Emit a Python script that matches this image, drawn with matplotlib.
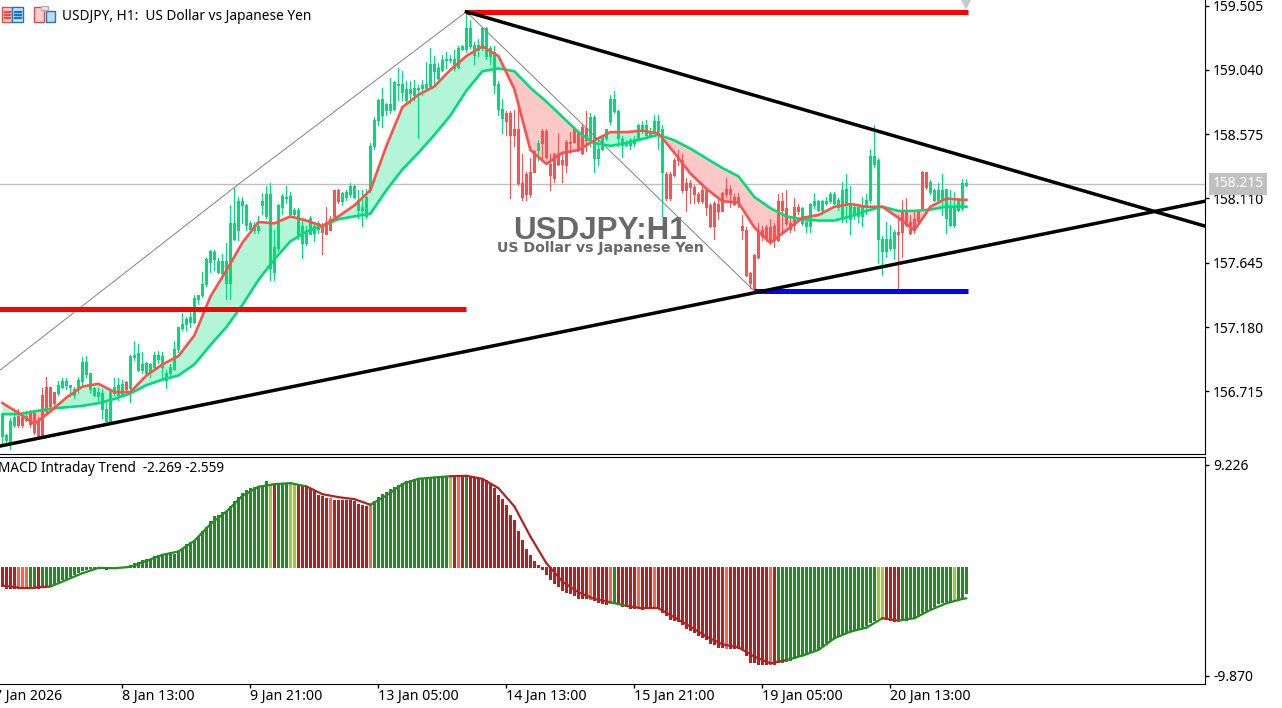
import matplotlib
matplotlib.use("Agg")
import matplotlib.pyplot as plt
from matplotlib.patches import Rectangle

FONT = "Noto Sans"

# chart scale limits
price_top = 159.545
price_bottom = 156.262
macd_top = 9.96
macd_bottom = -10.63
first_slot = -0.6
last_slot = 300.65

opens = [
    156.39, 156.36, 156.34, 156.47, 156.54, 156.53, 156.51, 156.56, 156.56, 156.50,
    156.69, 156.75, 156.75, 156.71, 156.70, 156.75, 156.76, 156.75, 156.69, 156.73,
    156.79, 156.84, 156.73, 156.69, 156.68, 156.59, 156.50, 156.50, 156.70, 156.69,
    156.69, 156.78, 156.74, 156.96, 156.87, 156.87, 156.85, 156.86, 156.89, 156.95,
    156.89, 156.80, 156.85, 156.88, 157.02, 157.17, 157.20, 157.22, 157.22, 157.38,
    157.41, 157.49, 157.65, 157.67, 157.58, 157.57, 157.50, 157.50, 157.82, 157.88,
    158.06, 157.92, 157.89, 157.88, 157.88, 158.06, 157.98, 157.61, 157.58, 157.75,
    158.05, 158.11, 158.00, 158.00, 157.85, 157.79, 157.79, 157.85, 157.86, 157.89,
    157.92, 157.94, 157.96, 158.17, 158.17, 158.09, 158.12, 158.14, 158.12, 158.03,
    158.03, 157.98, 158.17, 158.49, 158.68, 158.71, 158.75, 158.75, 158.76, 158.93,
    158.88, 158.82, 158.87, 158.86, 158.90, 158.91, 158.91, 158.92, 159.03, 158.98,
    159.04, 159.11, 159.11, 159.05, 159.06, 159.19, 159.19, 159.21, 159.15, 159.18,
    159.20, 159.14, 159.14, 158.93, 158.76, 158.69, 158.73, 158.73, 158.61, 158.61,
    158.22, 158.29, 158.30, 158.45, 158.46, 158.60, 158.60, 158.36, 158.43, 158.44,
    158.39, 158.52, 158.52, 158.61, 158.58, 158.63, 158.62, 158.53, 158.40, 158.40,
    158.47, 158.55, 158.67, 158.74, 158.55, 158.50, 158.50, 158.50, 158.51, 158.55,
    158.60, 158.57, 158.57, 158.60, 158.60, 158.30, 158.29, 158.29, 158.39, 158.41,
    158.39, 158.22, 158.22, 158.19, 158.14, 158.17, 158.17, 158.06, 158.08, 158.07,
    158.15, 158.18, 158.18, 158.12, 158.12, 157.91, 157.88, 157.57, 157.70, 157.87,
    157.88, 157.90, 157.90, 157.91, 158.09, 158.09, 158.04, 157.93, 158.05, 158.05,
    157.93, 157.91, 157.91, 158.06, 158.03, 158.03, 158.08, 158.09, 158.08, 158.05,
    157.96, 158.06, 157.96, 157.99, 157.98, 157.98, 158.05, 158.10, 158.36, 157.82,
    157.73, 157.73, 157.75, 157.75, 157.87, 158.03, 158.03, 157.94, 157.96, 158.01,
    158.30, 158.30, 158.16, 158.10, 158.10, 158.10, 157.97, 157.92, 157.92, 158.03,
    158.04, 158.21,
]
closes = [
    156.55, 156.40, 156.50, 156.53, 156.47, 156.47, 156.54, 156.48, 156.42, 156.39,
    156.40, 156.57, 156.61, 156.63, 156.76, 156.79, 156.79, 156.76, 156.73, 156.80,
    156.93, 156.93, 156.85, 156.74, 156.71, 156.70, 156.59, 156.72, 156.75, 156.76,
    156.77, 156.73, 156.97, 156.98, 156.99, 156.91, 156.92, 156.91, 156.98, 156.98,
    156.97, 156.85, 156.89, 157.02, 157.18, 157.20, 157.24, 157.25, 157.39, 157.41,
    157.49, 157.67, 157.73, 157.72, 157.66, 157.66, 157.66, 157.93, 157.93, 158.09,
    158.09, 158.06, 157.93, 157.92, 157.91, 158.09, 158.14, 158.14, 157.76, 158.06,
    158.13, 158.12, 158.13, 158.03, 158.03, 157.91, 157.88, 157.97, 157.91, 157.93,
    157.87, 157.85, 157.88, 157.98, 158.09, 158.15, 158.16, 158.20, 158.20, 158.10,
    158.05, 158.12, 158.49, 158.68, 158.82, 158.83, 158.79, 158.79, 158.95, 158.94,
    158.94, 158.90, 158.90, 158.91, 158.91, 158.93, 158.94, 159.08, 159.08, 159.05,
    159.11, 159.12, 159.12, 159.12, 159.20, 159.21, 159.34, 159.34, 159.22, 159.22,
    159.34, 159.34, 159.20, 159.17, 158.94, 158.76, 158.67, 158.57, 158.57, 158.22,
    158.12, 158.14, 158.14, 158.30, 158.51, 158.51, 158.41, 158.28, 158.26, 158.36,
    158.36, 158.35, 158.51, 158.52, 158.46, 158.44, 158.53, 158.70, 158.70, 158.47,
    158.56, 158.61, 158.83, 158.83, 158.74, 158.54, 158.52, 158.53, 158.54, 158.64,
    158.64, 158.64, 158.60, 158.67, 158.67, 158.61, 158.11, 158.11, 158.28, 158.39,
    158.17, 158.17, 158.19, 158.14, 158.09, 158.09, 158.05, 157.91, 157.91, 158.02,
    158.02, 158.14, 158.14, 158.07, 158.08, 157.88, 157.56, 157.50, 157.46, 157.69,
    157.84, 157.82, 157.81, 157.81, 157.81, 158.03, 157.93, 157.89, 157.92, 158.02,
    158.04, 157.94, 158.07, 158.09, 158.09, 158.09, 158.09, 158.14, 158.14, 158.10,
    158.17, 158.18, 158.06, 158.05, 158.05, 158.05, 158.10, 158.42, 158.42, 158.39,
    157.82, 157.82, 157.82, 157.87, 157.85, 157.87, 157.92, 157.86, 157.88, 157.95,
    158.04, 158.19, 158.23, 158.17, 158.17, 158.17, 158.18, 158.04, 158.05, 158.10,
    158.22, 158.22,
]
highs = [
    156.56, 156.41, 156.52, 156.59, 156.59, 156.55, 156.57, 156.58, 156.57, 156.53,
    156.74, 156.82, 156.75, 156.71, 156.79, 156.81, 156.81, 156.76, 156.75, 156.82,
    156.96, 156.97, 156.85, 156.75, 156.74, 156.73, 156.65, 156.73, 156.81, 156.81,
    156.80, 156.79, 156.98, 157.08, 157.06, 157.00, 156.93, 156.92, 157.00, 157.01,
    157.00, 156.87, 156.91, 157.08, 157.18, 157.28, 157.25, 157.30, 157.41, 157.41,
    157.58, 157.68, 157.74, 157.74, 157.68, 157.71, 157.79, 158.06, 158.19, 158.12,
    158.12, 158.07, 157.95, 157.94, 157.98, 158.15, 158.20, 158.22, 157.88, 158.07,
    158.14, 158.20, 158.16, 158.04, 158.04, 157.95, 157.91, 157.98, 157.93, 157.95,
    157.93, 158.05, 157.98, 158.17, 158.18, 158.16, 158.17, 158.22, 158.21, 158.17,
    158.17, 158.18, 158.51, 158.70, 158.83, 158.91, 158.80, 158.98, 158.96, 159.05,
    159.03, 158.96, 158.96, 158.97, 158.93, 158.97, 159.10, 159.20, 159.14, 159.09,
    159.15, 159.17, 159.15, 159.18, 159.21, 159.22, 159.46, 159.40, 159.24, 159.26,
    159.35, 159.35, 159.21, 159.21, 158.96, 158.83, 158.74, 158.74, 158.75, 158.77,
    158.43, 158.30, 158.40, 158.46, 158.53, 158.61, 158.61, 158.43, 158.44, 158.58,
    158.43, 158.53, 158.59, 158.62, 158.59, 158.65, 158.74, 158.73, 158.71, 158.53,
    158.57, 158.61, 158.86, 158.89, 158.75, 158.56, 158.53, 158.55, 158.56, 158.65,
    158.67, 158.68, 158.62, 158.71, 158.71, 158.64, 158.30, 158.30, 158.40, 158.46,
    158.43, 158.26, 158.24, 158.21, 158.16, 158.22, 158.18, 158.08, 158.09, 158.12,
    158.16, 158.26, 158.21, 158.14, 158.15, 157.99, 157.90, 157.58, 157.71, 157.93,
    157.91, 157.92, 157.96, 157.93, 158.14, 158.15, 158.17, 157.97, 158.11, 158.07,
    158.05, 157.97, 158.08, 158.15, 158.10, 158.10, 158.12, 158.16, 158.16, 158.11,
    158.23, 158.29, 158.20, 158.06, 158.05, 158.12, 158.14, 158.47, 158.64, 158.40,
    157.84, 157.94, 157.92, 157.88, 157.99, 158.10, 158.11, 157.99, 158.02, 158.03,
    158.31, 158.30, 158.24, 158.18, 158.22, 158.29, 158.18, 158.17, 158.16, 158.11,
    158.25, 158.25,
]
lows = [
    156.34, 156.34, 156.30, 156.46, 156.46, 156.46, 156.50, 156.46, 156.41, 156.38,
    156.39, 156.56, 156.59, 156.59, 156.69, 156.74, 156.73, 156.68, 156.67, 156.70,
    156.77, 156.82, 156.70, 156.68, 156.65, 156.52, 156.48, 156.48, 156.69, 156.65,
    156.68, 156.70, 156.64, 156.94, 156.86, 156.85, 156.84, 156.82, 156.87, 156.92,
    156.82, 156.74, 156.82, 156.87, 157.00, 157.16, 157.16, 157.18, 157.21, 157.35,
    157.40, 157.48, 157.58, 157.59, 157.57, 157.56, 157.38, 157.38, 157.81, 157.81,
    157.93, 157.88, 157.86, 157.86, 157.86, 158.00, 157.97, 157.52, 157.52, 157.74,
    158.00, 158.08, 157.99, 157.98, 157.82, 157.68, 157.77, 157.85, 157.80, 157.86,
    157.71, 157.85, 157.88, 157.97, 158.08, 158.06, 158.10, 158.12, 158.11, 157.97,
    157.91, 157.97, 158.16, 158.47, 158.64, 158.63, 158.71, 158.73, 158.75, 158.82,
    158.82, 158.81, 158.80, 158.82, 158.55, 158.86, 158.91, 158.91, 158.94, 158.96,
    159.03, 159.05, 159.10, 159.04, 159.05, 159.18, 159.17, 159.20, 159.08, 159.14,
    159.18, 159.12, 159.08, 158.87, 158.71, 158.58, 158.57, 158.11, 158.49, 158.21,
    158.10, 158.10, 158.12, 158.30, 158.39, 158.39, 158.40, 158.17, 158.23, 158.35,
    158.23, 158.30, 158.44, 158.51, 158.45, 158.43, 158.45, 158.49, 158.30, 158.35,
    158.46, 158.53, 158.65, 158.73, 158.49, 158.41, 158.49, 158.47, 158.49, 158.53,
    158.58, 158.56, 158.56, 158.58, 158.47, 157.98, 158.10, 158.10, 158.27, 158.35,
    158.16, 158.02, 158.08, 158.08, 158.08, 158.08, 157.99, 157.90, 157.82, 157.96,
    158.02, 158.12, 158.05, 158.06, 158.05, 157.82, 157.55, 157.46, 157.44, 157.68,
    157.81, 157.80, 157.78, 157.76, 157.80, 157.86, 157.92, 157.87, 157.88, 158.00,
    157.92, 157.87, 157.87, 158.04, 158.02, 158.00, 158.06, 158.08, 158.07, 158.03,
    157.94, 157.94, 157.85, 157.96, 157.94, 157.91, 158.00, 158.08, 158.34, 157.64,
    157.56, 157.69, 157.74, 157.67, 157.46, 157.69, 157.91, 157.85, 157.86, 157.92,
    158.03, 158.18, 158.14, 158.09, 158.09, 157.99, 157.86, 157.91, 157.90, 158.02,
    158.03, 158.20,
]

# moving averages, read every 4th bar (the last one is bar 241)
ma_bars = list(range(0, 241, 4)) + [241]
fast_ma = [
    156.63, 156.56, 156.48, 156.57, 156.67, 156.75, 156.77, 156.71, 156.71, 156.83,
    156.91, 156.97, 157.12, 157.40, 157.59, 157.79, 157.94, 157.93, 157.98, 157.95,
    157.91, 157.98, 158.06, 158.17, 158.49, 158.77, 158.86, 158.92, 159.04, 159.14,
    159.21, 159.14, 158.90, 158.46, 158.36, 158.44, 158.46, 158.53, 158.59, 158.59,
    158.60, 158.58, 158.44, 158.29, 158.18, 158.09, 158.08, 157.90, 157.79, 157.88,
    157.97, 157.99, 158.05, 158.07, 158.05, 158.05, 157.97, 157.88, 158.05, 158.11,
    158.10, 158.10,
]
slow_ma = [
    156.55, 156.55, 156.57, 156.59, 156.60, 156.61, 156.63, 156.66, 156.70, 156.76,
    156.80, 156.83, 156.91, 157.05, 157.18, 157.34, 157.52, 157.67, 157.80, 157.87,
    157.91, 157.96, 157.98, 158.00, 158.17, 158.32, 158.44, 158.57, 158.71, 158.89,
    159.03, 159.05, 159.03, 158.91, 158.81, 158.70, 158.59, 158.51, 158.49, 158.51,
    158.54, 158.57, 158.53, 158.47, 158.40, 158.33, 158.27, 158.12, 158.04, 157.98,
    157.96, 157.95, 157.95, 157.98, 158.02, 158.05, 158.02, 158.02, 158.03, 158.05,
    158.05, 158.05,
]

macd_hist = [
    -1.72, -1.96, -1.96, -1.90, -1.90, -1.90, -1.90, -1.90, -1.90, -1.96,
    -1.84, -1.75, -1.66, -1.51, -1.30, -1.12, -1.00, -0.82, -0.63, -0.45,
    -0.30, -0.21, -0.15, -0.09, -0.06, -0.06, -0.21, -0.15, -0.09, -0.06,
    -0.06, -0.06, 0.15, 0.30, 0.39, 0.60, 0.66, 0.69, 0.91, 1.00,
    1.12, 1.12, 1.15, 1.15, 1.36, 1.60, 2.02, 2.20, 2.33, 2.81,
    3.23, 3.62, 4.14, 4.53, 4.68, 4.98, 5.04, 5.44, 5.89, 6.28,
    6.70, 6.95, 7.10, 7.19, 7.25, 7.40, 7.70, 7.40, 7.40, 7.46,
    7.46, 7.55, 7.55, 7.55, 7.49, 7.34, 7.19, 7.04, 6.86, 6.49,
    6.34, 6.19, 6.19, 6.04, 5.98, 5.98, 5.98, 5.98, 5.89, 5.65,
    5.53, 5.44, 5.53, 5.89, 6.25, 6.55, 6.73, 7.01, 7.19, 7.40,
    7.55, 7.70, 7.85, 7.94, 8.00, 8.00, 8.00, 8.06, 8.06, 8.12,
    8.15, 8.18, 8.18, 8.24, 8.24, 8.18, 8.18, 8.24, 8.12, 8.00,
    7.94, 7.85, 7.46, 7.10, 6.49, 6.10, 5.59, 4.68, 4.17, 3.26,
    2.42, 1.60, 1.00, 0.51, 0.15, -0.21, -0.66, -1.12, -1.51, -1.72,
    -2.11, -2.27, -2.42, -2.57, -2.81, -2.81, -2.87, -2.93, -3.02, -3.17,
    -3.32, -3.41, -3.32, -3.26, -3.32, -3.53, -3.56, -3.71, -3.71, -3.74,
    -3.84, -3.78, -3.78, -3.78, -3.78, -4.08, -4.38, -4.74, -4.83, -4.92,
    -5.22, -5.59, -5.74, -5.89, -6.19, -6.34, -6.55, -6.95, -7.01, -7.25,
    -7.31, -7.34, -7.34, -7.40, -7.40, -7.46, -8.00, -8.61, -8.67, -8.85,
    -8.85, -8.85, -8.85, -8.85, -8.67, -8.61, -8.55, -8.46, -8.24, -8.00,
    -8.00, -7.94, -7.70, -7.55, -7.34, -7.10, -6.86, -6.64, -6.49, -6.19,
    -5.98, -5.89, -5.74, -5.65, -5.59, -5.44, -5.29, -4.98, -4.83, -4.68,
    -4.68, -4.74, -4.83, -4.89, -4.89, -4.83, -4.83, -4.68, -4.62, -4.38,
    -4.08, -3.93, -3.78, -3.56, -3.32, -3.17, -3.11, -3.11, -3.02, -2.87,
    -2.72, -2.42,
]
macd_signal = [
    -1.72, -1.90, -1.90, -1.81, -1.21, -0.60, -0.12, -0.15, -0.03, 0.51,
    1.06, 1.36, 2.33, 3.84, 4.98, 6.40, 7.22, 7.46, 7.55, 7.25,
    6.55, 6.28, 6.10, 5.59, 6.43, 7.46, 7.94, 8.06, 8.18, 8.21,
    7.94, 7.10, 5.44, 2.72, 0.30, -1.36, -2.33, -2.93, -3.23, -3.56,
    -3.78, -3.78, -4.59, -5.44, -6.34, -7.04, -7.31, -8.15, -8.76, -8.46,
    -8.06, -7.55, -6.49, -5.89, -5.53, -4.68, -4.89, -4.68, -3.93, -3.32,
    -2.93, -2.87,
]
# runs of bars per histogram colour
macd_runs = [
    ("R", 4), ("T", 3), ("G", 2), ("R", 1), ("G", 14), ("Y", 2), ("R", 1), ("T", 1),
    ("G", 39), ("Y", 1), ("R", 1), ("G", 3), ("Y", 2), ("R", 8), ("T", 1), ("R", 9),
    ("T", 1), ("G", 19), ("Y", 1), ("R", 1), ("T", 1), ("R", 1), ("G", 1), ("R", 30),
    ("T", 1), ("R", 4), ("T", 1), ("G", 1), ("R", 5), ("T", 1), ("R", 3), ("T", 1),
    ("R", 17), ("T", 1), ("R", 10), ("T", 1), ("R", 1), ("G", 25), ("Y", 2), ("R", 4),
    ("G", 13), ("Y", 1), ("G", 3),
]

price_ticks = [159.505, 159.040, 158.575, 158.110, 157.645, 157.180, 156.715]
macd_ticks = [9.226, -9.870]
date_ticks = [30, 62, 94, 126, 158, 190, 222]
date_labels = ["8 Jan 13:00", "9 Jan 21:00", "13 Jan 05:00", "14 Jan 13:00",
               "15 Jan 21:00", "19 Jan 05:00", "20 Jan 13:00"]

current_price = 158.215
swing_high = 159.46
swing_low = 157.44
prior_level = 157.31
zigzag_bars = [-0.5, 58, 116, 188]
zigzag_prices = [156.87, 158.19, 159.46, 157.44]
upper_bars = [116, last_slot]
upper_prices = [159.46, 157.91]
lower_bars = [-0.5, last_slot]
lower_prices = [156.32, 158.09]

CANDLE_UP = "#00DC78"
CANDLE_DOWN = "#FF5050"
MACD_COLORS = {"R": "#B22222", "T": "#FF6347", "G": "#228B22", "Y": "#9ACD32"}
BAR_LW = 2.16  # 3 px at 100 dpi

fig = plt.figure(figsize=(12.82, 7.08), dpi=100)
ax = fig.add_axes([0, (708 - 454) / 708, 1205 / 1282, 454 / 708])
ax2 = fig.add_axes([0, (708 - 684) / 708, 1205 / 1282, (684 - 456.5) / 708])

# ---- price panel
bars = list(range(len(opens)))
ax.axhline(current_price, color="#C0C0C0", lw=1, zorder=1)
ax.fill_between(ma_bars, fast_ma, slow_ma, where=[f >= s for f, s in zip(fast_ma, slow_ma)],
                interpolate=True, color="#B3F5D7", lw=0, zorder=1)
ax.fill_between(ma_bars, fast_ma, slow_ma, where=[f < s for f, s in zip(fast_ma, slow_ma)],
                interpolate=True, color="#FFC8C8", lw=0, zorder=1)

ax.text(149.5, 157.875, "USDJPY:H1", color="#696969", fontsize=22.6, fontweight="bold",
        family="Liberation Sans", ha="center", va="center", zorder=1.5)
ax.text(149.5, 157.75, "US Dollar vs Japanese Yen", color="#696969", fontsize=10.2, fontweight="bold",
        family="DejaVu Sans", ha="center", va="center", zorder=1.5)

colors = [CANDLE_UP if c >= o else CANDLE_DOWN for o, c in zip(opens, closes)]
ax.vlines(bars, lows, highs, colors=colors, lw=0.72, zorder=2, antialiased=False)
ax.vlines(bars, opens, closes, colors=colors, lw=BAR_LW, zorder=2, antialiased=False)

ax.plot(zigzag_bars, zigzag_prices, color="#808080", lw=0.7, zorder=3)
ax.plot(ma_bars, slow_ma, color=CANDLE_UP, lw=1.9, zorder=3)
ax.plot(ma_bars, fast_ma, color=CANDLE_DOWN, lw=1.9, zorder=3)

ax.hlines(swing_high, 116, 241.5, color="#FF0000", lw=3.6, zorder=4)
ax.hlines(prior_level, -1, 116, color="#FF0000", lw=3.6, zorder=4)
ax.hlines(swing_low, 188, 241.5, color="#0000FF", lw=3.6, zorder=4)
ax.plot(upper_bars, upper_prices, color="black", lw=2.5, zorder=5)
ax.plot(lower_bars, lower_prices, color="black", lw=2.5, zorder=5)
ax.plot([241], [price_top], marker="v", ms=14, color="#C8C8C8", mew=0, clip_on=True, zorder=5)

ax.set_xlim(first_slot, last_slot)
ax.set_ylim(price_bottom, price_top)
ax.set_xticks([])
ax.yaxis.tick_right()
ax.set_yticks(price_ticks, [f"{p:.3f}" for p in price_ticks], family=FONT, fontsize=10.0)
ax.tick_params(axis="y", length=3, width=1, pad=2.8, color="black")
ax.spines["top"].set_visible(False)
ax.spines["left"].set_visible(False)

ax.text(1238 / 1205, current_price, f"{current_price:.3f}", transform=ax.get_yaxis_transform(),
        color="white", family=FONT, fontsize=10.0, ha="center", va="center", clip_on=False,
        bbox=dict(facecolor="#C0C0C0", edgecolor="none", pad=2.4), zorder=6)

fig.text(62 / 1282, 1 - 16 / 708, "USDJPY, H1:  US Dollar vs Japanese Yen", family=FONT,
         fontsize=9.85, va="center", ha="left", color="black")

# ---- MACD panel
macd_states = [state for state, count in macd_runs for _ in range(count)]
ax2.vlines(bars, [0] * len(bars), macd_hist, colors=[MACD_COLORS[s] for s in macd_states],
           lw=BAR_LW, antialiased=False)
for k in range(len(ma_bars) - 1):
    seg_color = "#B22222" if macd_states[ma_bars[k] + 1] in "RT" else "#228B22"
    ax2.plot(ma_bars[k:k + 2], macd_signal[k:k + 2], color=seg_color, lw=1.6, solid_capstyle="round")

ax2.set_xlim(first_slot, last_slot)
ax2.set_ylim(macd_bottom, macd_top)
ax2.yaxis.tick_right()
ax2.set_yticks(macd_ticks, [f"{v:.3f}" for v in macd_ticks], family=FONT, fontsize=10.0)
ax2.tick_params(axis="y", length=3, width=1, pad=2.8)
ax2.set_xticks(date_ticks, date_labels, family=FONT, fontsize=10.2, ha="left")
ax2.tick_params(axis="x", length=3, width=1, pad=0.5)
ax2.spines["left"].set_visible(False)
ax2.text(-2, -11.72, "7 Jan 2026", family=FONT, fontsize=10.2, ha="left", va="center", clip_on=False)

fig.text(-2 / 1282, 1 - 469 / 708, "MACD Intraday Trend  -2.269 -2.559", family=FONT,
         fontsize=9.75, va="center", ha="left", color="black")


def icon_rect(x, y, w, h, face, edge):
    # x, y, w, h in screen pixels from the top left
    fig.add_artist(Rectangle((x / 1282, 1 - (y + h) / 708), w / 1282, h / 708, transform=fig.transFigure,
                             facecolor=face, edgecolor=edge, lw=1))


# toolbar icons next to the title
icon_rect(2, 7, 10, 15, "#F9D0CC", "#E0504A")
icon_rect(12, 7, 11, 15, "#CFE4F7", "#1E73BE")
for row in [11, 14, 17]:
    icon_rect(4, row, 6, 1, "#E0504A", "#E0504A")
    icon_rect(14, row, 7, 1, "#1E73BE", "#1E73BE")
icon_rect(34, 7, 10, 15, "#F9D0CC", "#E0504A")
icon_rect(46, 11, 9, 11, "#BBDDF7", "#1E73BE")
icon_rect(41, 6, 7, 4, "#E8E8E8", "#B0B0B0")

fig.savefig("out.png", dpi=100)
